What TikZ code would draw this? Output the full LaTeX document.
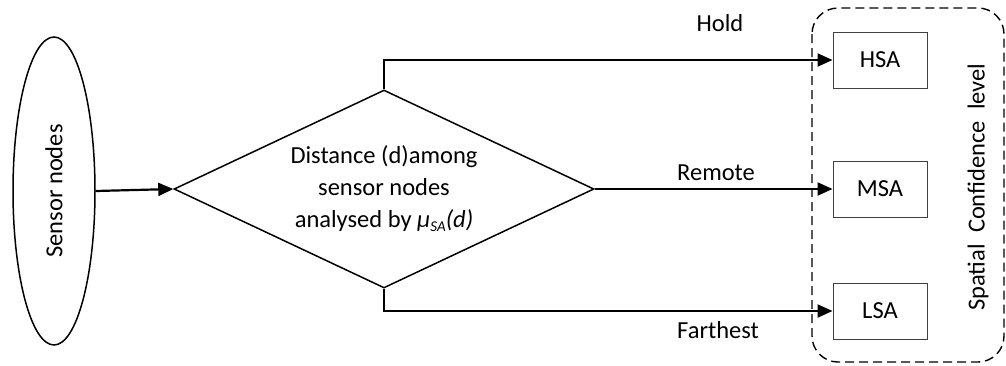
\documentclass[tikz,border=0pt]{standalone}
\usepackage{fontspec}
\setmainfont{Carlito}
\usetikzlibrary{shapes.geometric,arrows.meta}
\tikzset{
  conn/.style={line width=2.2pt,-{Triangle[length=15pt,width=13pt]}},
  shapeline/.style={draw,line width=1.5pt},
  levelbox/.style={draw=black!75,line width=1pt,minimum width=94pt,minimum height=56pt,inner sep=0pt},
  lbl/.style={inner sep=0pt},
}
\begin{document}
\begin{tikzpicture}[x=1pt,y=-1pt,font=\fontsize{24.5}{32}\selectfont]
\useasboundingbox (0,0) rectangle (1006,365);
\node[shapeline,ellipse,minimum width=82pt,minimum height=308pt,inner sep=0pt] (sn) at (54,191) {\rotatebox{90}{Sensor nodes}};
\node[shapeline,diamond,aspect=2.12,minimum width=420pt,minimum height=198pt,inner sep=0pt,align=center] (dm) at (384,189) {Distance (d)among\\sensor nodes\\analysed by \textit{μ}\raisebox{-0.3ex}{\fontsize{15}{15}\selectfont\textit{SA}}\textit{(d)}};
\node[levelbox] (hsa) at (880,60) {HSA};
\node[levelbox] (msa) at (880,189) {MSA};
\node[levelbox] (lsa) at (880,311) {LSA};
\draw[line width=1.4pt,dash pattern=on 9pt off 5pt,rounded corners=26pt] (812,8) rectangle (1004,362);
\node[lbl,rotate=90] (scl) at (978,187) {Spatial\ \ Confidence\ \ level};
\draw[conn] (sn.east) -- (dm.west);
\draw[conn] (dm.north) |- (hsa.west);
\draw[conn] (dm.east) -- (msa.west);
\draw[conn] (dm.south) |- (lsa.west);
\node[lbl] (hold) at (720,23) {Hold};
\node[lbl] (remote) at (716,173) {Remote};
\node[lbl] (far) at (718,330) {Farthest};
\end{tikzpicture}
\end{document}
